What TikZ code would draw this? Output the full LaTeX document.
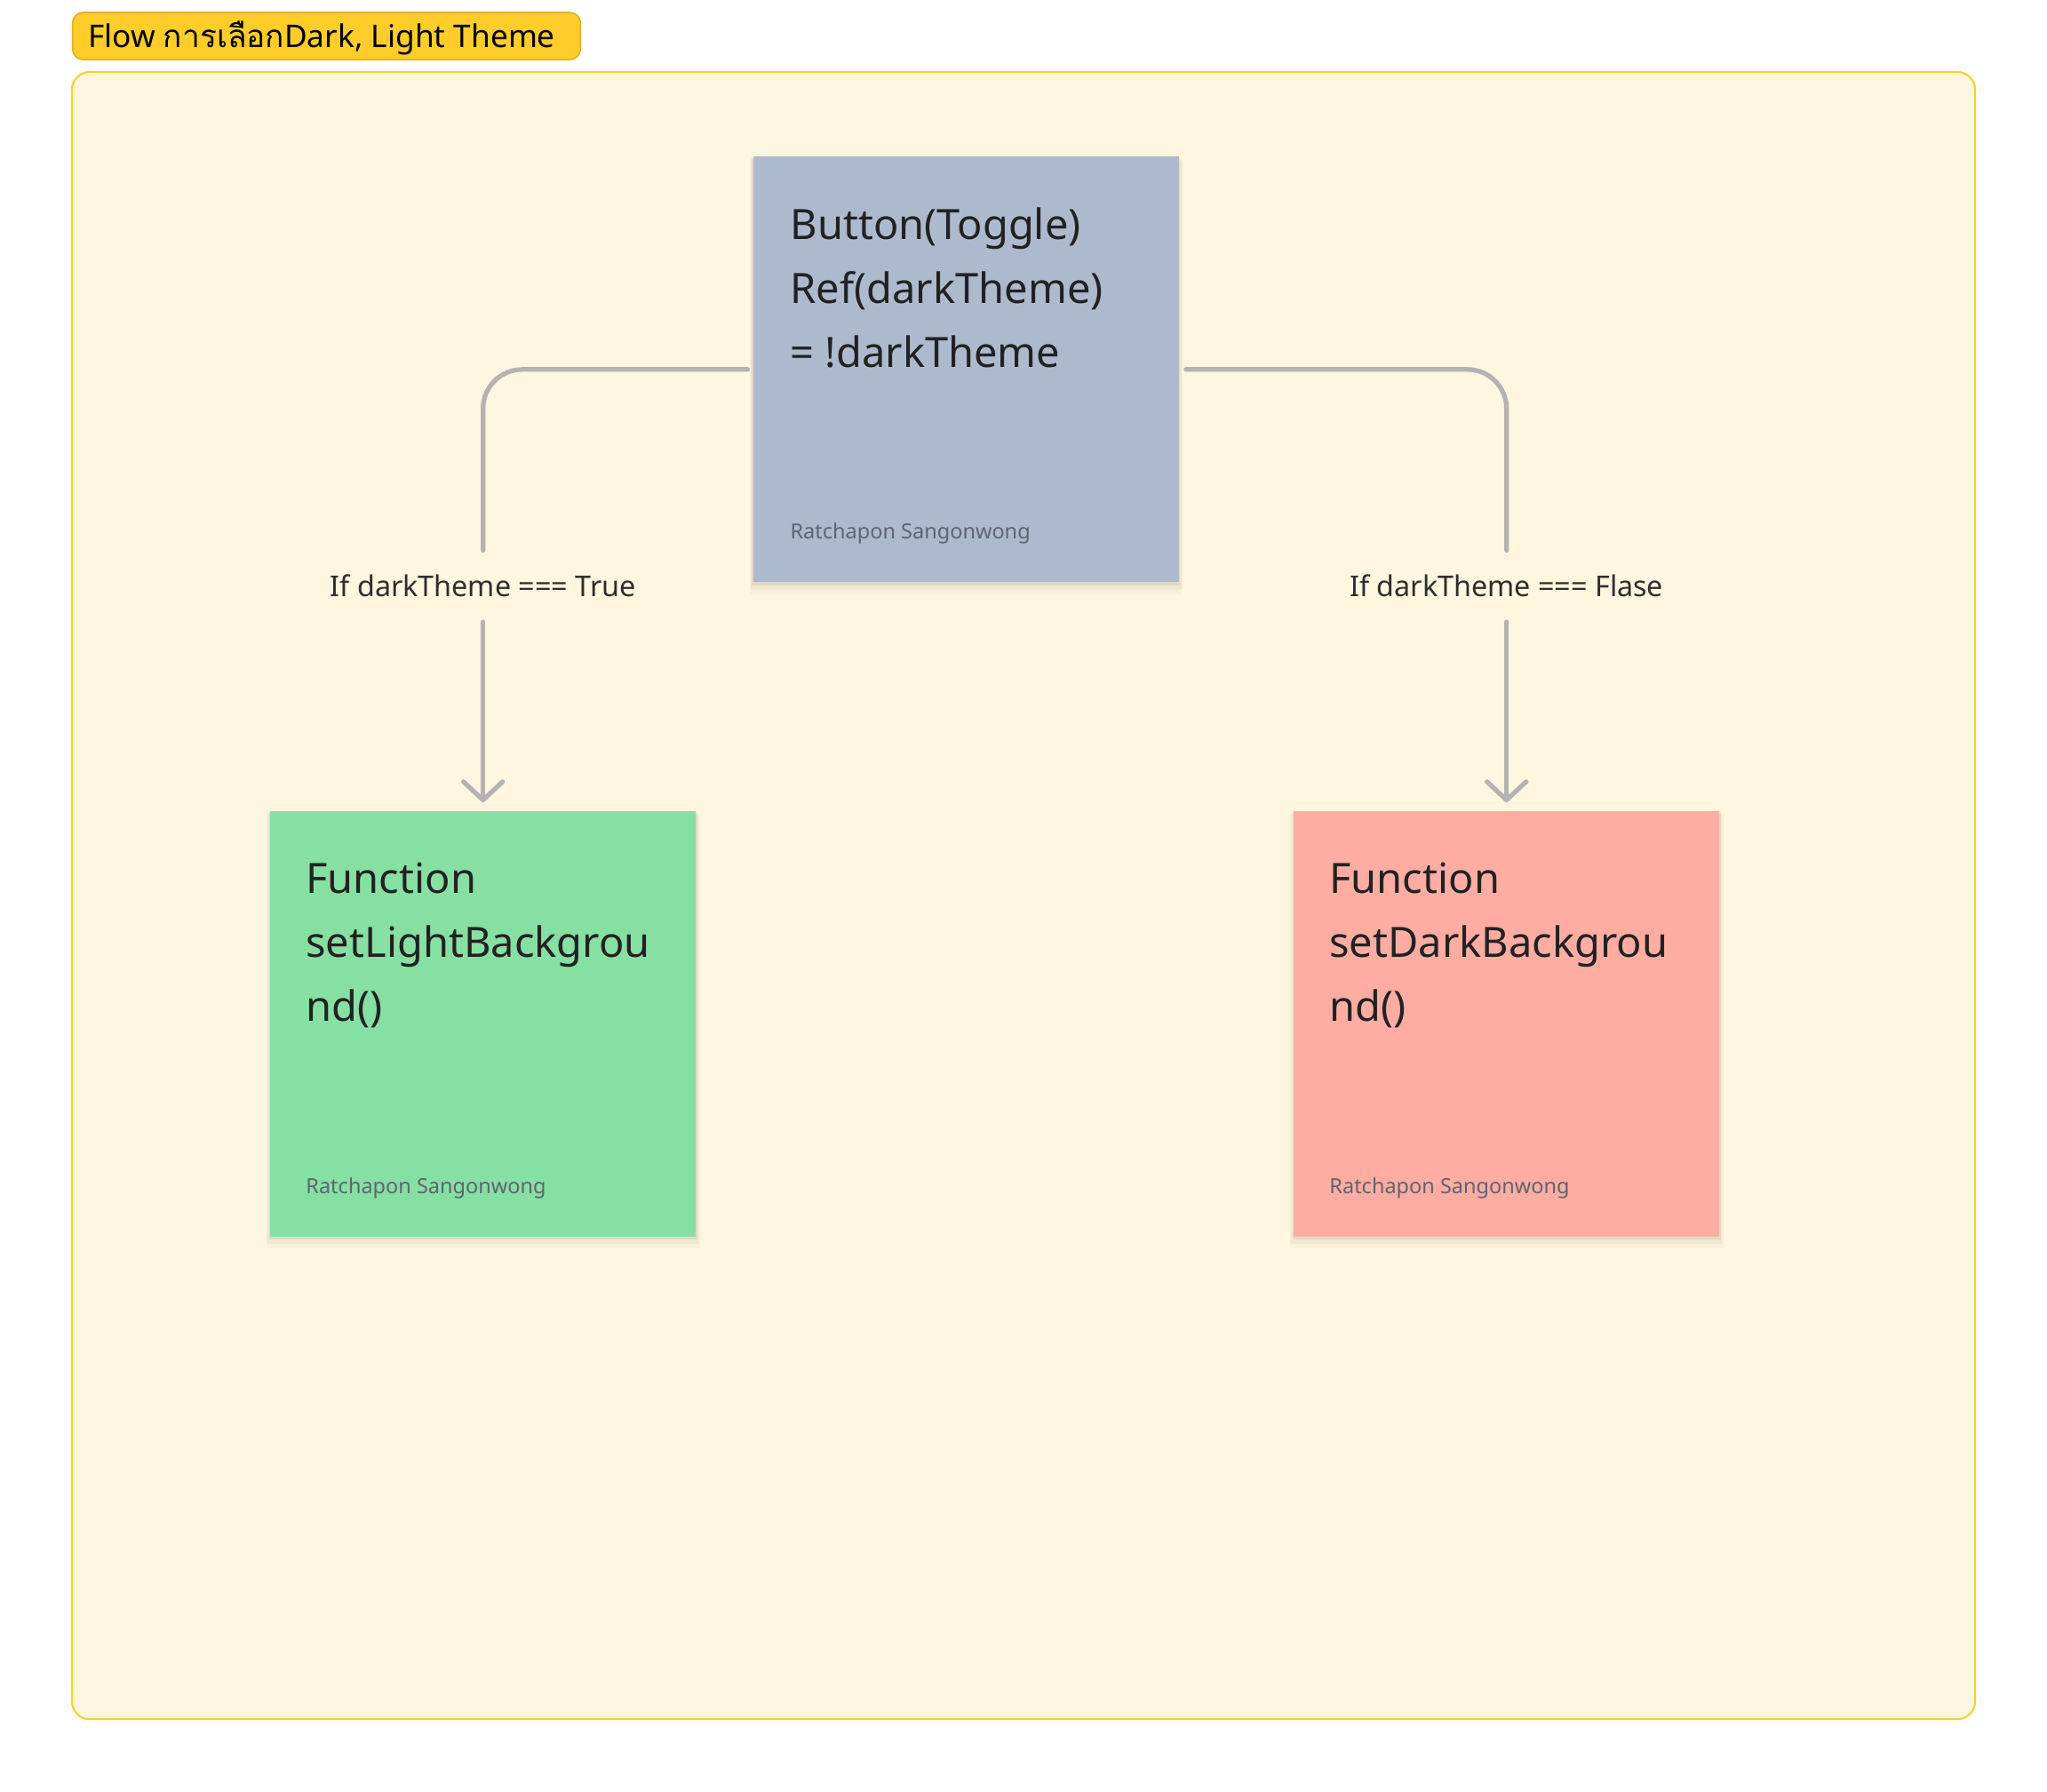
\documentclass[tikz,border=0pt]{standalone}
\usepackage{fontspec}
\setmainfont{Noto Sans}
\newfontfamily\thaifont[Script=Thai]{Loma}
\usetikzlibrary{arrows.meta,shadows}
\definecolor{creamfill}{HTML}{FFF6DF}
\definecolor{frameline}{HTML}{FFCD29}
\definecolor{titlefill}{HTML}{FFCD29}
\definecolor{titleline}{HTML}{E2B128}
\definecolor{bluebox}{HTML}{ADBACE}
\definecolor{greenbox}{HTML}{86E0A3}
\definecolor{redbox}{HTML}{FFADA3}
\definecolor{connc}{HTML}{B3B3B3}
\definecolor{textc}{HTML}{222222}
\definecolor{authc}{HTML}{5E6470}
\definecolor{labc}{HTML}{2E2E2E}
\tikzset{
  sticky/.style={draw=none, minimum width=163pt, minimum height=163pt, inner sep=0pt,
    drop shadow={shadow xshift=0pt, shadow yshift=-0.8pt, shadow scale=1.006, opacity=0.05, fill=black},
    drop shadow={shadow xshift=0pt, shadow yshift=-1.8pt, shadow scale=1.012, opacity=0.035, fill=black},
    drop shadow={shadow xshift=0pt, shadow yshift=-3pt, shadow scale=1.018, opacity=0.025, fill=black}},
  maintext/.style={anchor=north west, inner sep=0pt, align=left, text=textc,
    font=\fontsize{16}{24.5}\selectfont},
  authtext/.style={anchor=base west, inner sep=0pt, text=authc, font=\fontsize{8}{10}\selectfont},
  condlabel/.style={inner sep=0pt, minimum height=27pt, text=labc, font=\fontsize{11}{13}\selectfont},
  conn/.style={draw=connc, line width=1.8pt, line cap=round, line join=round, rounded corners=15pt},
  arrowconn/.style={conn, -{Straight Barb[length=7pt, width=15pt, line cap=round, line join=round]}, shorten >=3pt}
}
\begin{document}
\begin{tikzpicture}[x=0.5pt, y=-0.5pt]
\useasboundingbox[fill=white] (0,0) rectangle (1568,1372);
% frame
\draw[fill=creamfill, draw=frameline, line width=0.7pt, rounded corners=7pt] (55,55) rectangle (1513,1317);
% title
\node[draw=titleline, fill=titlefill, line width=0.6pt, rounded corners=4pt, minimum width=194.5pt, minimum height=18pt, inner sep=0pt, anchor=north west] (titlebox) at (55,9) {};
\node[anchor=west, inner sep=0pt, text=black, font=\fontsize{12}{14}\selectfont] (titletext) at (67,29) {Flow {\thaifont การเลือก}Dark, Light Theme};
% stickies
\node[sticky, fill=bluebox] (blue) at (740,283) {};
\node[maintext] (bluetxt) at (605,159) {Button(Toggle)\\Ref(darkTheme)\\= !darkTheme};
\node[authtext] (blueauth) at (605,413) {Ratchapon Sangonwong};

\node[sticky, fill=greenbox] (green) at (370,784) {};
\node[maintext] (greentxt) at (234,660) {Function\\setLightBackgrou\\nd()};
\node[authtext] (greenauth) at (234,914) {Ratchapon Sangonwong};

\node[sticky, fill=redbox] (red) at (1154,784) {};
\node[maintext] (redtxt) at (1018,660) {Function\\setDarkBackgrou\\nd()};
\node[authtext] (redauth) at (1018,914) {Ratchapon Sangonwong};
% labels
\node[condlabel] (labtrue) at (370,449) {If darkTheme === True};
\node[condlabel] (labfalse) at (1154,449) {If darkTheme === Flase};
% connectors
\draw[conn] ([xshift=-2pt]blue.west) -| (labtrue.north);
\draw[arrowconn] (labtrue.south) -- (green.north);
\draw[conn] ([xshift=2.5pt]blue.east) -| (labfalse.north);
\draw[arrowconn] (labfalse.south) -- (red.north);
\end{tikzpicture}
\end{document}
